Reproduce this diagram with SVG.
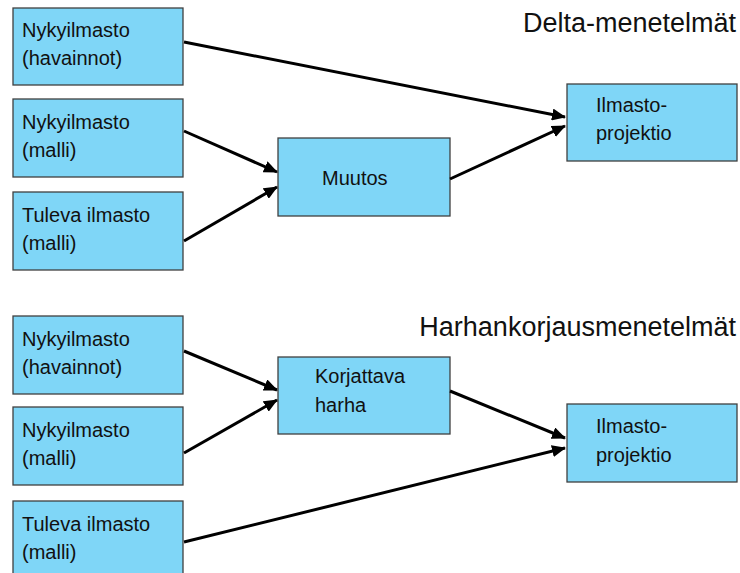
<svg xmlns="http://www.w3.org/2000/svg" width="740" height="573" viewBox="0 0 740 573">
<defs>
<marker id="arr" markerUnits="userSpaceOnUse" markerWidth="14" markerHeight="12" viewBox="0 0 14 12" refX="13" refY="6" orient="auto">
<path d="M0,0 L14,6 L0,12 z" fill="#000"/>
</marker>
<style>
.box{fill:#7fd6f7;stroke:#404040;stroke-width:1.3}
.t{font-family:"Liberation Sans",Arial,sans-serif;font-size:20px;fill:#111}
.h{font-family:"Liberation Sans",Arial,sans-serif;font-size:27px;fill:#111}
.c{stroke:#000;stroke-width:3;fill:none;marker-end:url(#arr)}
</style>
</defs>
<rect width="740" height="573" fill="#fff"/>
<text class="h" x="736" y="32" text-anchor="end">Delta-menetelmät</text>
<text class="h" x="736" y="336" text-anchor="end">Harhankorjausmenetelmät</text>
<g id="d_havainnot"><rect class="box" x="13" y="8" width="170" height="77"/><text class="t" x="22" y="37">Nykyilmasto</text><text class="t" x="22" y="65">(havainnot)</text></g>
<g id="d_malli"><rect class="box" x="13" y="99" width="170" height="78"/><text class="t" x="22" y="129">Nykyilmasto</text><text class="t" x="22" y="157">(malli)</text></g>
<g id="d_tuleva"><rect class="box" x="13" y="192" width="170" height="78"/><text class="t" x="22" y="222">Tuleva ilmasto</text><text class="t" x="22" y="250">(malli)</text></g>
<g id="d_muutos"><rect class="box" x="278" y="138" width="172" height="78"/><text class="t" x="322" y="185">Muutos</text></g>
<g id="d_projektio"><rect class="box" x="567" y="84" width="170" height="77"/><text class="t" x="596" y="112">Ilmasto-</text><text class="t" x="596" y="140">projektio</text></g>
<g id="h_havainnot"><rect class="box" x="13" y="316" width="170" height="78"/><text class="t" x="22" y="346">Nykyilmasto</text><text class="t" x="22" y="374">(havainnot)</text></g>
<g id="h_malli"><rect class="box" x="13" y="407" width="170" height="78"/><text class="t" x="22" y="437">Nykyilmasto</text><text class="t" x="22" y="465">(malli)</text></g>
<g id="h_tuleva"><rect class="box" x="13" y="501" width="170" height="80"/><text class="t" x="22" y="531">Tuleva ilmasto</text><text class="t" x="22" y="559">(malli)</text></g>
<g id="h_korjattava"><rect class="box" x="278" y="357" width="172" height="77"/><text class="t" x="315" y="383">Korjattava</text><text class="t" x="315" y="412">harha</text></g>
<g id="h_projektio"><rect class="box" x="567" y="404" width="170" height="78"/><text class="t" x="596" y="433">Ilmasto-</text><text class="t" x="596" y="462">projektio</text></g>
<g id="connectors">
<line class="c" x1="184" y1="42" x2="565" y2="117"/>
<line class="c" x1="184" y1="131" x2="277" y2="172"/>
<line class="c" x1="184" y1="241" x2="277" y2="187"/>
<line class="c" x1="450" y1="179" x2="565" y2="126"/>
<line class="c" x1="184" y1="351" x2="277" y2="390"/>
<line class="c" x1="184" y1="453" x2="277" y2="400"/>
<line class="c" x1="450" y1="391" x2="565" y2="438"/>
<line class="c" x1="184" y1="542" x2="565" y2="448"/>
</g>
</svg>
